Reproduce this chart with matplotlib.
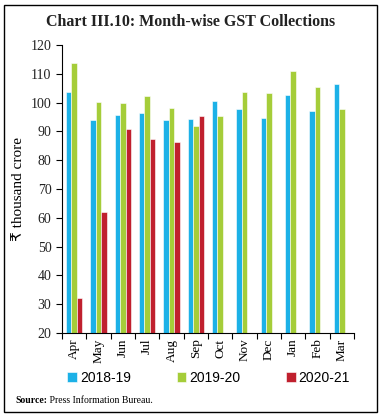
import numpy as np
import matplotlib
matplotlib.use("Agg")
import matplotlib.pyplot as plt
from matplotlib.patches import Rectangle

# Data (thousand crore)
months = ["Apr", "May", "Jun", "Jul", "Aug", "Sep", "Oct", "Nov", "Dec", "Jan", "Feb", "Mar"]
fy1819 = [103.5, 94.0, 95.6, 96.5, 94.0, 94.4, 100.7, 97.6, 94.7, 102.5, 97.2, 106.6]
fy1920 = [113.9, 100.3, 99.9, 102.1, 98.2, 91.9, 95.4, 103.5, 103.2, 110.8, 105.4, 97.6]
fy2021 = [32.3, 62.0, 90.9, 87.4, 86.4, 95.5]
series_names = ["2018-19", "2019-20", "2020-21"]
colors = ["#1CB1E7", "#A5CD39", "#C0202E"]

serif = ["Liberation Serif", "DejaVu Serif"]

fig = plt.figure(figsize=(3.82, 4.16), dpi=100)
ax = fig.add_axes([0.162, 0.1995, 0.765, 0.6925])

x = np.arange(len(months))
w = 0.225
ax.bar(x - w, fy1819, w, color=colors[0], edgecolor="white", linewidth=0.4, label=series_names[0])
ax.bar(x, fy1920, w, color=colors[1], edgecolor="white", linewidth=0.4, label=series_names[1])
ax.bar(x[:len(fy2021)] + w, fy2021, w, color=colors[2], edgecolor="white", linewidth=0.4, label=series_names[2])

ax.set_ylim(20, 120)
ax.set_yticks(range(20, 121, 10))
ax.set_xlim(-0.5, len(months) - 0.5)
ax.set_xticks(x)
ax.set_xticklabels(months, rotation=90, family=serif, fontsize=9.5)
ax.set_xticks(np.arange(-0.5, len(months), 1), minor=True)
ax.tick_params(axis="x", which="major", length=0, pad=4)
ax.tick_params(axis="x", which="minor", length=4, width=0.8, direction="out")
ax.tick_params(axis="y", length=4, width=0.8, direction="out", labelsize=10)
for lab in ax.get_yticklabels():
    lab.set_family(serif)
    lab.set_color("#222222")
ax.spines["top"].set_visible(False)
ax.spines["right"].set_visible(False)
ax.spines["left"].set_linewidth(0.8)
ax.spines["bottom"].set_linewidth(0.8)
ax.set_ylabel("₹ thousand crore", family=["Liberation Serif", "DejaVu Sans"], fontsize=11, labelpad=4)

fig.text(0.5, 0.947, "Chart III.10: Month-wise GST Collections", ha="center", va="center",
         family=serif, fontweight="bold", fontsize=11.5, color="#222222")

fig.legend(loc="center", bbox_to_anchor=(0.546, 0.092), ncol=3, frameon=False,
           handlelength=0.7, handleheight=0.7, handletextpad=0.2, columnspacing=3.3,
           prop={"family": "Liberation Sans", "size": 10})

# Source line: bold label followed by plain text
src = fig.text(0.04, 0.038, "Source:", ha="left", va="center", family=serif, fontweight="bold", fontsize=7)
ax.annotate(" Press Information Bureau.", xy=(1, 0.5), xycoords=src, ha="left", va="center",
            family=serif, fontsize=7, annotation_clip=False)

# Frame around the whole chart
fig.patches.append(Rectangle((0.011, 0.01), 0.976, 0.979, transform=fig.transFigure,
                             fill=False, edgecolor="black", linewidth=1.0))

fig.savefig("out.png", dpi=100)
